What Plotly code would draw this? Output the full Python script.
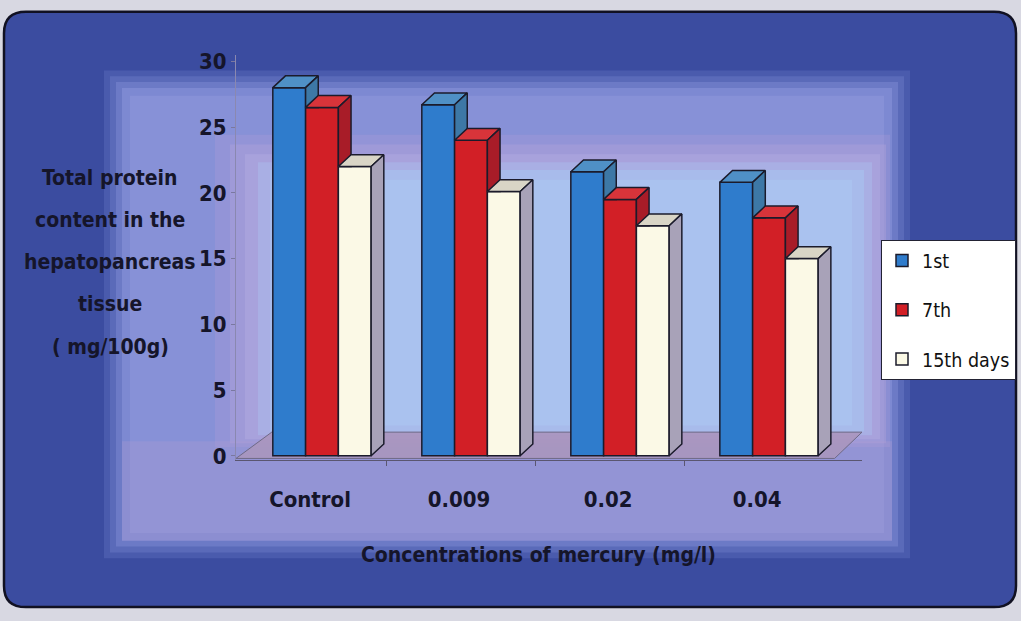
import plotly.graph_objects as go

# ---------------- data ----------------
categories = ["Control", "0.009", "0.02", "0.04"]
series_names = ["1st", "7th", "15th days"]
day1 = [28.0, 26.7, 21.6, 20.8]
day7 = [26.5, 24.0, 19.5, 18.1]
day15 = [22.0, 20.1, 17.5, 15.0]
y_ticks = [0, 5, 10, 15, 20, 25, 30]

# ---------------- styling ----------------
W, H = 1021, 621
FONT = "DejaVu Sans Condensed, Liberation Sans Narrow, Arial Narrow, Liberation Sans, Arial, sans-serif"
front_cols = ["#2f7ccc", "#d21f26", "#fbf9e6"]
top_cols = ["#4f90c6", "#d8343a", "#d9d5c6"]
side_cols = ["#3d78a6", "#a81c28", "#a8a2b8"]
edge = "#1b1b2b"
bar_w = 0.22
offsets = [-0.22, 0.0, 0.22]
dx, dy = 0.085, 0.9  # faux 3D depth in data units

x_range = [-0.577, 3.624]
y_range = [-0.3, 30.5]

def px_x(p):
    return p / W

def px_y(p):
    return 1 - p / H

fig = go.Figure()

series = [day1, day7, day15]
for s, vals in enumerate(series):
    fig.add_trace(go.Bar(
        x=[i + offsets[s] for i in range(len(categories))], y=vals, width=bar_w,
        name=series_names[s], legendgroup=series_names[s],
        marker=dict(color=front_cols[s], line=dict(color=edge, width=1.5)),
        showlegend=True))

# top and side faces
for s, vals in enumerate(series):
    for i, v in enumerate(vals):
        x0 = i + offsets[s] - bar_w / 2
        x1 = x0 + bar_w
        fig.add_trace(go.Scatter(
            x=[x0, x1, x1 + dx, x0 + dx, x0], y=[v, v, v + dy, v + dy, v],
            mode="lines", fill="toself", fillcolor=top_cols[s],
            line=dict(color=edge, width=1.5), hoverinfo="skip", showlegend=False))
        low = series[s + 1][i] if s + 1 < len(series) else 0
        ylow_l = max(low, 0)
        ylow_r = max(low, dy)
        fig.add_trace(go.Scatter(
            x=[x1, x1 + dx, x1 + dx, x1, x1],
            y=[ylow_l, ylow_r, v + dy, v, ylow_l],
            mode="lines", fill="toself", fillcolor=side_cols[s],
            line=dict(color=edge, width=1.5), hoverinfo="skip", showlegend=False))

# ---------------- background shapes ----------------
shapes = []
def rect(x0, y0, x1, y1, color):
    shapes.append(dict(type="rect", xref="paper", yref="paper",
                       x0=px_x(x0), x1=px_x(x1), y0=px_y(y1), y1=px_y(y0),
                       fillcolor=color, line=dict(width=0), layer="below"))

r = 22
L, T, R, B = 4, 6, 1016, 616
path = (f"M {px_x(L+r)},{px_y(T)} L {px_x(R-r)},{px_y(T)} Q {px_x(R)},{px_y(T)} {px_x(R)},{px_y(T+r)} "
        f"L {px_x(R)},{px_y(B-r)} Q {px_x(R)},{px_y(B)} {px_x(R-r)},{px_y(B)} "
        f"L {px_x(L+r)},{px_y(B)} Q {px_x(L)},{px_y(B)} {px_x(L)},{px_y(B-r)} "
        f"L {px_x(L)},{px_y(T+r)} Q {px_x(L)},{px_y(T)} {px_x(L+r)},{px_y(T)} Z")
shapes.append(dict(type="path", xref="paper", yref="paper", path=path,
                   fillcolor="#3b4ca0", line=dict(color="#111122", width=2.5), layer="below"))
glow = [
    (104, 66, 910, 566, "rgba(110,125,205,0.30)"),
    (110, 72, 904, 560, "rgba(120,135,210,0.35)"),
    (116, 78, 898, 554, "rgba(130,142,215,0.45)"),
    (122, 84, 892, 548, "rgba(140,150,220,0.55)"),
    (130, 92, 884, 540, "rgba(148,156,222,0.45)"),
    (215, 132, 890, 452, "rgba(185,160,215,0.25)"),
    (230, 142, 886, 448, "rgba(190,168,218,0.30)"),
    (245, 152, 880, 444, "rgba(185,178,228,0.35)"),
    (258, 160, 872, 440, "rgba(170,190,238,0.45)"),
    (270, 168, 864, 436, "rgba(168,196,240,0.55)"),
    (285, 178, 852, 430, "rgba(172,202,244,0.50)"),
    (122, 446, 892, 548, "rgba(175,155,210,0.30)"),
]
for g in glow:
    rect(*g)

fx0, fx1 = x_range[0], 3.44
shapes.append(dict(type="path", xref="x", yref="y", layer="below",
                   path=f"M {fx0},-0.2 L {fx1},-0.2 L {x_range[1]},1.8 L {fx0 + 0.24},1.8 Z",
                   fillcolor="rgba(170,150,190,0.9)", line=dict(color="#6f6a86", width=1)))

# ---------------- annotations ----------------
ann = []
ytitle_lines = ["Total protein", "content in the", "hepatopancreas", "tissue", "( mg/100g)"]
ytitle_y = [176, 219, 262, 305, 349]
for t, yy in zip(ytitle_lines, ytitle_y):
    ann.append(dict(text=f"<b>{t}</b>", x=px_x(110), y=px_y(yy), xref="paper", yref="paper",
                    showarrow=False, xanchor="center", yanchor="middle",
                    font=dict(family=FONT, size=21, color="#15152a")))
ann.append(dict(text="<b>Concentrations of mercury (mg/l)</b>", x=px_x(538), y=px_y(563),
                xref="paper", yref="paper", showarrow=False, xanchor="center", yanchor="middle",
                font=dict(family=FONT, size=21, color="#15152a")))

fig.update_layout(
    width=W, height=H, margin=dict(l=0, r=0, t=0, b=0),
    paper_bgcolor="#d8d8e2", plot_bgcolor="rgba(0,0,0,0)",
    barmode="overlay", shapes=shapes, annotations=ann,
    showlegend=True,
    legend=dict(x=px_x(881), y=px_y(240), xanchor="left", yanchor="top",
                bgcolor="#ffffff", bordercolor="#222233", borderwidth=1,
                font=dict(family=FONT, size=19.5, color="#111111"),
                tracegroupgap=21, itemwidth=30, traceorder="grouped"),
    xaxis=dict(domain=[px_x(236), px_x(862)], range=x_range,
               tickmode="array", tickvals=[i - 0.08 for i in range(len(categories))],
               ticktext=[f"<b>{c}</b>" for c in categories],
               tickfont=dict(family=FONT, size=22, color="#15152a"),
               ticks="", ticklabelstandoff=20, showgrid=False, zeroline=False,
               showline=True, linecolor="#5a5670", linewidth=1,
               minor=dict(tickmode="array", tickvals=[0.43, 1.43, 2.43], ticks="outside",
                          ticklen=5, tickcolor="#5a5670")),
    yaxis=dict(domain=[px_y(465), px_y(50)], range=y_range,
               tickmode="array", tickvals=y_ticks,
               ticktext=[f"<b>{v}</b>" for v in y_ticks],
               tickfont=dict(family=FONT, size=22, color="#15152a"),
               ticks="outside", ticklen=4, tickcolor="#7a78a0",
               showgrid=False, zeroline=False,
               showline=True, linecolor="#8a88b0", linewidth=1),
)

fig.write_html("out.html")
